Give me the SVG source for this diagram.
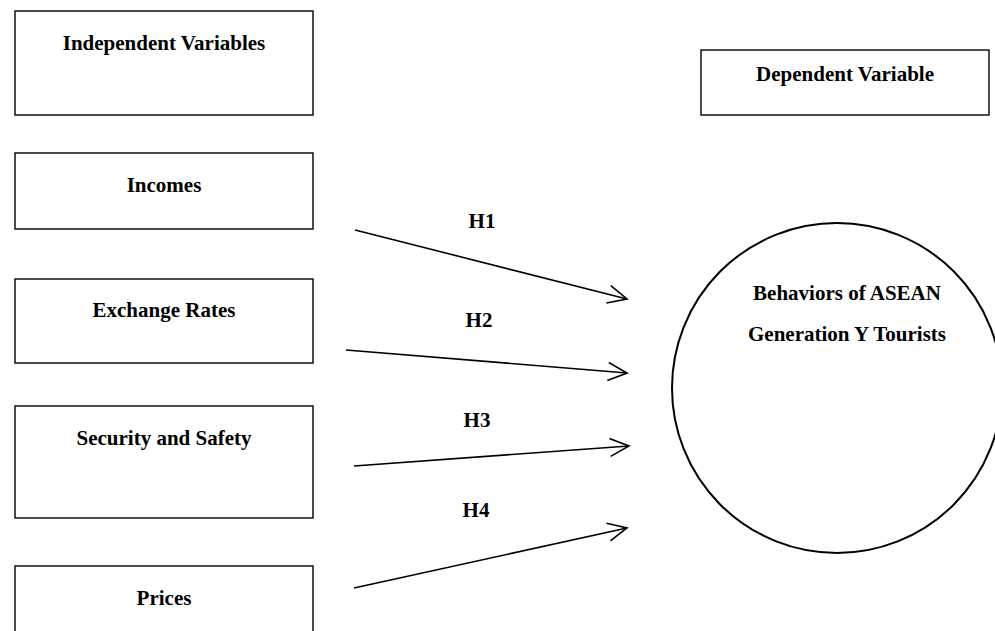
<svg xmlns="http://www.w3.org/2000/svg" width="995" height="631" viewBox="0 0 995 631">
<style>
.box{fill:#fff;stroke:#000;stroke-width:1.4}
.t{font-family:"Liberation Serif","Times New Roman",serif;font-weight:bold;font-size:21px;fill:#000;text-anchor:middle}
.c{fill:none;stroke:#000;stroke-width:1.6;marker-end:url(#ah)}
</style>
<defs>
<marker id="ah" markerUnits="userSpaceOnUse" markerWidth="30" markerHeight="30" viewBox="-25 -15 30 30" refX="0" refY="0" orient="auto" overflow="visible">
<path d="M-19,-9 L0,0 L-19,9" fill="none" stroke="#000" stroke-width="1.6"/>
</marker>
</defs>
<rect width="995" height="631" fill="#fff"/>
<g id="independent-variables"><rect class="box" x="15" y="11" width="298" height="104"/><text class="t" x="164" y="50">Independent Variables</text></g>
<g id="dependent-variable"><rect class="box" x="701" y="50" width="288" height="65"/><text class="t" x="845" y="81">Dependent Variable</text></g>
<g id="incomes"><rect class="box" x="15" y="153" width="298" height="76"/><text class="t" x="164" y="192">Incomes</text></g>
<g id="exchange-rates"><rect class="box" x="15" y="279" width="298" height="84"/><text class="t" x="164" y="317">Exchange Rates</text></g>
<g id="security-safety"><rect class="box" x="15" y="406" width="298" height="112"/><text class="t" x="164" y="445">Security and Safety</text></g>
<g id="prices"><rect class="box" x="15" y="566" width="298" height="80"/><text class="t" x="164" y="605">Prices</text></g>
<g id="behaviors"><circle cx="837" cy="388" r="165" fill="none" stroke="#000" stroke-width="2"/><text class="t" x="847" y="300">Behaviors of ASEAN</text><text class="t" x="847" y="341">Generation Y Tourists</text></g>
<g id="connectors">
<line class="c" x1="355" y1="230" x2="627" y2="299"/>
<line class="c" x1="346" y1="350" x2="627" y2="373"/>
<line class="c" x1="354" y1="466" x2="629" y2="446"/>
<line class="c" x1="354" y1="588" x2="627" y2="528"/>
<text class="t" x="482" y="228">H1</text>
<text class="t" x="479" y="327">H2</text>
<text class="t" x="477" y="427">H3</text>
<text class="t" x="476" y="517">H4</text>
</g>
</svg>
